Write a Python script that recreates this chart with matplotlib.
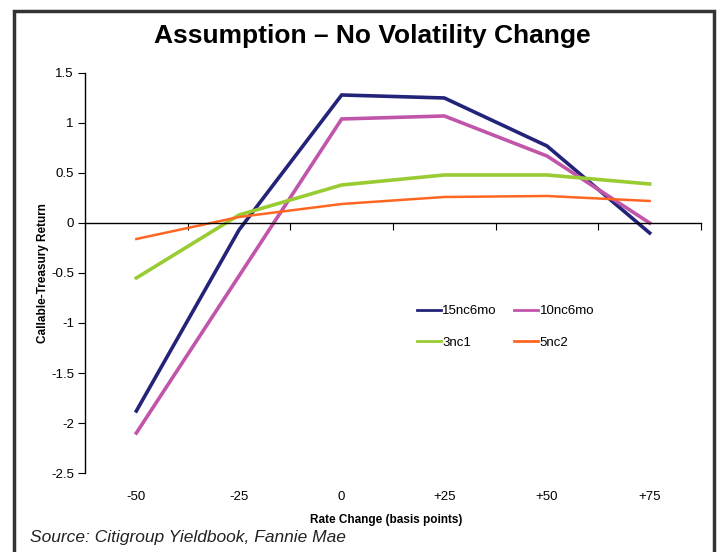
import matplotlib
matplotlib.use("Agg")
import matplotlib.pyplot as plt
import matplotlib.patches as mpatches
import matplotlib.transforms as mtransforms

plt.rcParams["font.family"] = ["Liberation Sans", "DejaVu Sans"]

#####################
### Data
#####################
rate_labels = ["-50", "-25", "0", "+25", "+50", "+75"]
ret_15nc6mo = [-1.88, -0.07, 1.28, 1.25, 0.77, -0.10]
ret_10nc6mo = [-2.10, -0.53, 1.04, 1.07, 0.67, 0.00]
ret_3nc1 = [-0.55, 0.08, 0.38, 0.48, 0.48, 0.39]
ret_5nc2 = [-0.16, 0.06, 0.19, 0.26, 0.27, 0.22]
y_ticks = [1.5, 1, 0.5, 0, -0.5, -1, -1.5, -2, -2.5]

#####################
### Plot
#####################
fig = plt.figure(figsize=(7.18, 5.52), dpi=100)
ax = fig.add_axes([0.1184, 0.1431, 0.8579, 0.7247])

xs = list(range(len(rate_labels)))
l1, = ax.plot(xs, ret_15nc6mo, color="#23237a", lw=2.6, label="15nc6mo", solid_joinstyle="miter")
l2, = ax.plot(xs, ret_10nc6mo, color="#c155aa", lw=2.6, label="10nc6mo", solid_joinstyle="miter")
l3, = ax.plot(xs, ret_3nc1, color="#99cc33", lw=2.6, label="3nc1", solid_joinstyle="miter")
l4, = ax.plot(xs, ret_5nc2, color="#ff6622", lw=1.8, label="5nc2", solid_joinstyle="miter")

ax.set_xlim(-0.5, len(rate_labels) - 0.5)
ax.set_ylim(-2.5, 1.5)
ax.set_yticks(y_ticks)
ax.set_yticklabels([("%g" % v) for v in y_ticks], fontsize=9.5)

# category axis drawn along zero, ticks between categories
for s in ["top", "right"]:
    ax.spines[s].set_visible(False)
ax.spines["bottom"].set_position(("data", 0))
ax.spines["bottom"].set_linewidth(1.0)
ax.spines["left"].set_linewidth(1.0)
ax.set_xticks([i + 0.5 for i in range(-1, len(rate_labels))])
ax.tick_params(axis="x", direction="out", length=5, labelbottom=False)
ax.tick_params(axis="y", direction="out", length=5, pad=3)

trans = mtransforms.blended_transform_factory(ax.transData, ax.transAxes)
for i, lab in enumerate(rate_labels):
    ax.text(i, -0.045, lab, transform=trans, ha="center", va="top", fontsize=9.5)

ax.set_ylabel("Callable-Treasury Return", fontsize=8.5, fontweight="bold")
ax.yaxis.set_label_coords(-0.059, 0.5)
fig.text(0.538, 0.058, "Rate Change (basis points)", ha="center", va="center",
         fontsize=8.5, fontweight="bold")

fig.text(0.518, 0.935, "Assumption \u2013 No Volatility Change", ha="center", va="center",
         fontsize=19, fontweight="bold")
fig.text(0.042, 0.027, "Source: Citigroup Yieldbook, Fannie Mae", ha="left", va="center",
         fontsize=12.5, style="italic", color="#222222")

# two rows: 15nc6mo 10nc6mo / 3nc1 5nc2 (legend fills by column)
leg = ax.legend([l1, l3, l2, l4], ["15nc6mo", "3nc1", "10nc6mo", "5nc2"],
                ncol=2, loc="upper left", bbox_to_anchor=(0.539, 0.42), frameon=False,
                fontsize=9.5, handlelength=1.8, handletextpad=0.1, columnspacing=1.35,
                labelspacing=1.45, borderaxespad=0, borderpad=0)
for h in leg.legend_handles:
    h.set_linewidth(2.0)

# outer frame round the chart
frame = mpatches.Rectangle((14 / 718, -0.05), 700 / 718, 1.05 - 11 / 552,
                           transform=fig.transFigure, fill=False,
                           edgecolor="#333333", lw=2.5, clip_on=False)
fig.patches.append(frame)

plt.savefig("out.png", dpi=100)
